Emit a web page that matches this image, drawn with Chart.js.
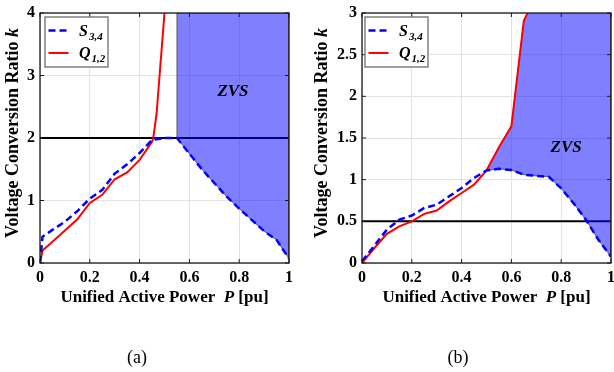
<!DOCTYPE html>
<html>
<head>
<meta charset="utf-8">
<script src="https://cdn.jsdelivr.net/npm/chart.js@4.4.0/dist/chart.umd.min.js"></script>
<style>
  html, body { margin: 0; padding: 0; background: #fff; }
  #wrap { position: relative; width: 614px; height: 372px; }
  canvas { position: absolute; top: 0; }
</style>
</head>
<body>
<div id="wrap">
  <canvas id="chartA" width="307" height="372" style="left:0px"></canvas>
  <canvas id="chartB" width="307" height="372" style="left:307px"></canvas>
</div>
<script>
const SERIF = '"Liberation Serif", "Times New Roman", serif';

// common
const xTicks = [0, 0.2, 0.4, 0.6, 0.8, 1];
const legendMain = ['S', 'Q'];
const legendSub = ['3,4', '1,2'];

// (a) reference ratio k = 2
const pA_S = [0, 0.01, 0.05, 0.1, 0.15, 0.2, 0.25, 0.3, 0.35, 0.4, 0.45, 0.5, 0.55, 0.6, 0.65, 0.7, 0.75, 0.8, 0.85, 0.9, 0.95, 1];
const kA_S = [0, 0.42, 0.53, 0.66, 0.83, 1.03, 1.17, 1.43, 1.58, 1.76, 1.97, 2.0, 2.0, 1.75, 1.5, 1.28, 1.06, 0.87, 0.69, 0.51, 0.37, 0.07];
const pA_Q = [0, 0.01, 0.05, 0.1, 0.15, 0.2, 0.25, 0.3, 0.35, 0.4, 0.45, 0.455, 0.468, 0.5];
const kA_Q = [0, 0.2, 0.34, 0.52, 0.7, 0.96, 1.09, 1.34, 1.45, 1.65, 1.94, 2.0, 2.38, 4.0];
const refA = 2;
const zvsFromA = 0.55;
const yTicksA = [0, 1, 2, 3, 4];

// (b) reference ratio k = 0.5
const pB_S = [0, 0.05, 0.1, 0.15, 0.2, 0.25, 0.3, 0.35, 0.4, 0.45, 0.5, 0.55, 0.6, 0.65, 0.7, 0.75, 0.8, 0.85, 0.9, 0.95, 1];
const kB_S = [0.02, 0.21, 0.4, 0.52, 0.57, 0.66, 0.7, 0.8, 0.9, 1.02, 1.11, 1.13, 1.115, 1.06, 1.045, 1.035, 0.895, 0.716, 0.516, 0.276, 0.076];
const pB_Q = [0, 0.05, 0.1, 0.15, 0.2, 0.25, 0.3, 0.35, 0.4, 0.45, 0.5, 0.55, 0.6, 0.65, 0.7];
const kB_Q = [0, 0.18, 0.35, 0.44, 0.5, 0.59, 0.63, 0.74, 0.84, 0.94, 1.11, 1.39, 1.64, 2.91, 3.2];
const refB = 0.5;
const zvsFromB = 0.5;
const yTicksB = [0, 0.5, 1, 1.5, 2, 2.5, 3];

function pts(ps, ks) {
  return ps.map((p, i) => ({ x: p, y: ks[i] }));
}

// draws a line of text made of runs with different fonts, centred on (cx, cy)
function drawRuns(ctx, runs, cx, cy, rot) {
  ctx.save();
  ctx.translate(cx, cy);
  if (rot) ctx.rotate(rot);
  let total = 0;
  runs.forEach(r => { ctx.font = r.f; total += ctx.measureText(r.t).width; });
  let x = -total / 2;
  ctx.fillStyle = '#000';
  ctx.textBaseline = 'middle';
  ctx.textAlign = 'left';
  runs.forEach(r => { ctx.font = r.f; ctx.fillText(r.t, x, 0); x += ctx.measureText(r.t).width; });
  ctx.restore();
}

const decor = {
  id: 'decor',
  afterDatasetsDraw(chart, args, o) {
    const ctx = chart.ctx, ca = chart.chartArea;
    const xs = chart.scales.x, ys = chart.scales.y;
    ctx.save();
    ctx.strokeStyle = '#1a1a1a';
    ctx.lineWidth = 1;
    ctx.beginPath();
    xs.ticks.forEach(t => {
      const px = xs.getPixelForValue(t.value);
      ctx.moveTo(px, ca.bottom); ctx.lineTo(px, ca.bottom - 4);
      ctx.moveTo(px, ca.top); ctx.lineTo(px, ca.top + 4);
    });
    ys.ticks.forEach(t => {
      const py = ys.getPixelForValue(t.value);
      ctx.moveTo(ca.left, py); ctx.lineTo(ca.left + 4, py);
      ctx.moveTo(ca.right, py); ctx.lineTo(ca.right - 4, py);
    });
    ctx.stroke();
    ctx.lineWidth = 1.3;
    ctx.strokeRect(ca.left, ca.top, ca.right - ca.left, ca.bottom - ca.top);
    ctx.restore();
  },
  afterDraw(chart, args, o) {
    const ctx = chart.ctx, ca = chart.chartArea;
    ctx.save();
    // legend
    const lx = ca.left + o.legendDx, ly = ca.top + 4, lw = 63, lh = 50;
    ctx.fillStyle = '#fff';
    ctx.fillRect(lx, ly, lw, lh);
    ctx.strokeStyle = '#808080';
    ctx.lineWidth = 1.5;
    ctx.strokeRect(lx, ly, lw, lh);
    const styles = [{ c: '#0000ff', d: [7, 4], w: 2.5 }, { c: '#ff0000', d: [], w: 2 }];
    legendMain.forEach((m, i) => {
      const y = ly + 13.5 + i * 22.5;
      ctx.strokeStyle = styles[i].c;
      ctx.lineWidth = styles[i].w;
      ctx.setLineDash(styles[i].d);
      ctx.beginPath(); ctx.moveTo(lx + 3.5, y); ctx.lineTo(lx + 23.5, y); ctx.stroke();
      ctx.setLineDash([]);
      ctx.fillStyle = '#000';
      ctx.textAlign = 'left';
      ctx.textBaseline = 'alphabetic';
      ctx.font = 'italic bold 16px ' + SERIF;
      ctx.fillText(m, lx + 34, y + 5);
      const w = ctx.measureText(m).width;
      ctx.font = 'italic bold 11px ' + SERIF;
      ctx.fillText(legendSub[i], lx + 34 + w + 1, y + 9);
    });
    // ZVS label
    ctx.font = 'italic bold 17px ' + SERIF;
    ctx.textAlign = 'center';
    ctx.textBaseline = 'middle';
    ctx.fillStyle = '#000';
    ctx.fillText('ZVS', chart.scales.x.getPixelForValue(o.zvsAt[0]), chart.scales.y.getPixelForValue(o.zvsAt[1]));
    ctx.restore();
    // axis titles
    drawRuns(ctx, [
      { t: 'Unified Active Power  ', f: 'bold 17px ' + SERIF },
      { t: 'P', f: 'italic bold 17px ' + SERIF },
      { t: ' [pu]', f: 'bold 17px ' + SERIF }
    ], (ca.left + ca.right) / 2, 298, 0);
    drawRuns(ctx, [
      { t: 'Voltage Conversion Ratio ', f: 'bold 18px ' + SERIF },
      { t: 'k', f: 'italic bold 18px ' + SERIF }
    ], o.yTitleX, 133, -Math.PI / 2);
    // caption
    drawRuns(ctx, [{ t: o.caption, f: '18px ' + SERIF }], o.captionX, 358, 0);
  }
};

function makeChart(id, c) {
  const tickFont = { family: SERIF, size: 16, weight: 'bold' };
  return new Chart(document.getElementById(id), {
    type: 'line',
    data: {
      datasets: [
        { data: c.blue, borderColor: '#0000ff', borderWidth: 2.5, borderDash: [7, 4], pointRadius: 0, fill: false, order: 0 },
        { data: c.red, borderColor: '#ff0000', borderWidth: 2, pointRadius: 0, fill: false, order: 1 },
        { data: c.zone, borderColor: 'rgba(70,70,70,0.8)', borderWidth: 1, backgroundColor: 'rgba(0,0,255,0.5)', pointRadius: 0, fill: 'shape', order: 2 },
        { data: c.ref, borderColor: '#000', borderWidth: 2, pointRadius: 0, fill: false, order: 3 }
      ]
    },
    options: {
      responsive: false,
      animation: false,
      devicePixelRatio: 1,
      layout: { padding: { left: 0, right: c.padRight, top: 13, bottom: 0 } },
      plugins: {
        legend: { display: false },
        tooltip: { enabled: false },
        decor: { legendDx: c.legendDx, zvsAt: c.zvsAt, yTitleX: c.yTitleX, caption: c.caption, captionX: c.captionX }
      },
      scales: {
        x: {
          type: 'linear', min: 0, max: 1,
          afterBuildTicks: s => { s.ticks = xTicks.map(v => ({ value: v })); },
          afterFit: s => { s.height = 109; s.paddingLeft = 0; s.paddingRight = 0; },
          grid: { color: '#e3e3e3', drawTicks: false },
          border: { display: false },
          ticks: { padding: 5, color: '#000', font: tickFont, maxRotation: 0, autoSkip: false, callback: v => String(v) }
        },
        y: {
          type: 'linear', min: c.yTicks[0], max: c.yTicks[c.yTicks.length - 1],
          afterBuildTicks: s => { s.ticks = c.yTicks.map(v => ({ value: v })); },
          afterFit: s => { s.width = c.yWidth; s.paddingTop = 0; s.paddingBottom = 0; },
          grid: { color: '#e3e3e3', drawTicks: false },
          border: { display: false },
          ticks: { padding: 5, color: '#000', font: tickFont, autoSkip: false, callback: v => String(v) }
        }
      }
    },
    plugins: [decor]
  });
}

// ZVS areas built from the series
const blueA = pts(pA_S, kA_S);
const topA = yTicksA[yTicksA.length - 1];
const zoneA = [{ x: zvsFromA, y: topA }, { x: 1, y: topA }]
  .concat(blueA.filter(q => q.x >= zvsFromA).reverse());
zoneA.push(zoneA[0]);

const blueB = pts(pB_S, kB_S);
const redB = pts(pB_Q, kB_Q);
const topB = yTicksB[yTicksB.length - 1];
const zoneB = redB.filter(q => q.x >= zvsFromB)
  .concat([{ x: 1, y: topB }])
  .concat(blueB.filter(q => q.x >= zvsFromB).reverse());

makeChart('chartA', {
  blue: blueA, red: pts(pA_Q, kA_Q), zone: zoneA,
  ref: [{ x: 0, y: refA }, { x: 1, y: refA }],
  yTicks: yTicksA, yWidth: 40, padRight: 18, legendDx: 5,
  zvsAt: [0.775, 2.75], yTitleX: 13, caption: '(a)', captionX: 137
});

makeChart('chartB', {
  blue: blueB, red: redB, zone: zoneB,
  ref: [{ x: 0, y: refB }, { x: 1, y: refB }],
  yTicks: yTicksB, yWidth: 55, padRight: 3, legendDx: 3,
  zvsAt: [0.82, 1.39], yTitleX: 15, caption: '(b)', captionX: 151
});
</script>
</body>
</html>
